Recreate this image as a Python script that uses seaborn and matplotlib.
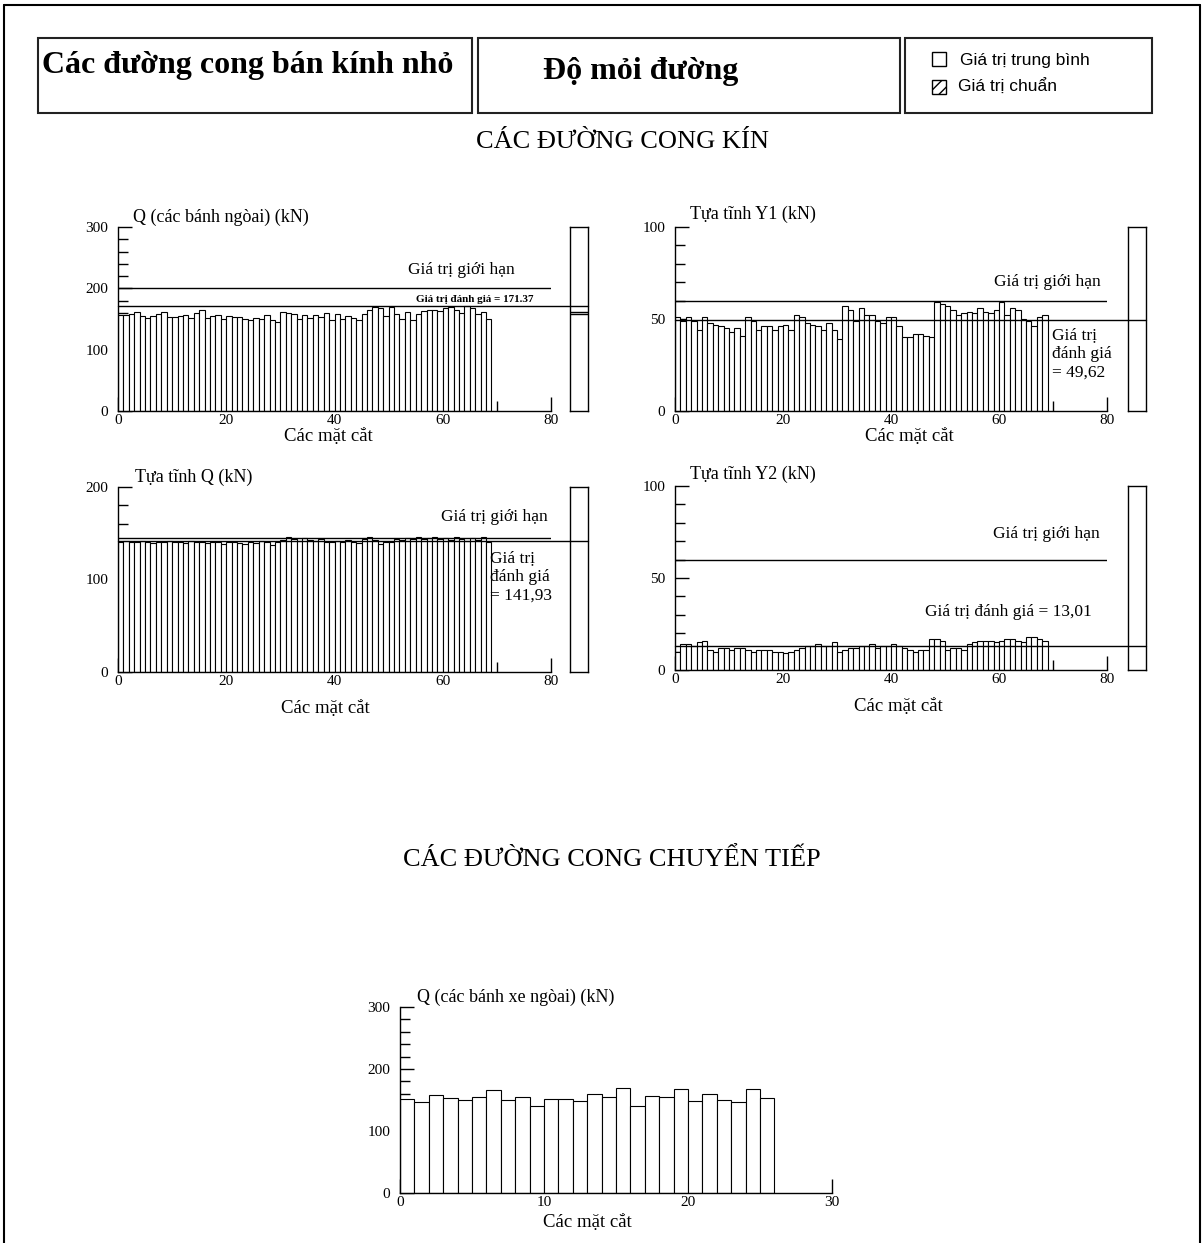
import numpy as np
import pandas as pd
import matplotlib
matplotlib.use("Agg")
import matplotlib.pyplot as plt
import seaborn as sns
from matplotlib.patches import Rectangle
from matplotlib.lines import Line2D
from matplotlib.ticker import MultipleLocator

# ---------------- data ----------------
q_outer = [157, 157, 158, 161, 155, 152, 155, 158, 162, 153, 153, 155, 157, 152, 160,
           165, 152, 155, 156, 150, 155, 154, 153, 150, 148, 152, 150, 156, 148, 145,
           162, 160, 158, 150, 157, 152, 156, 154, 160, 148, 158, 150, 155, 152, 148,
           158, 165, 170, 168, 155, 170, 158, 150, 162, 148, 158, 163, 165, 165, 163,
           168, 170, 165, 160, 172, 168, 158, 162, 150]
q_outer_limit = 200
q_outer_eval = 171.37
q_outer_side = [162, 158]

y1 = [51, 49, 51, 49, 44, 51, 48, 47, 46, 45, 43, 45, 41, 51, 49, 44, 46, 46, 44, 46,
      47, 44, 52, 51, 48, 47, 46, 44, 48, 44, 39, 57, 55, 49, 56, 52, 52, 49, 48, 51,
      51, 46, 40, 40, 42, 42, 41, 40, 59, 58, 57, 55, 52, 53, 54, 53, 56, 54, 53, 55,
      59, 52, 56, 55, 50, 49, 46, 51, 52]
y1_limit = 60
y1_eval = 49.62

q_static = [140, 142, 141, 140, 142, 141, 139, 141, 140, 142, 140, 141, 139, 142, 140,
            141, 139, 140, 141, 138, 140, 141, 139, 138, 141, 139, 142, 140, 137, 141,
            143, 146, 144, 142, 145, 143, 142, 144, 141, 140, 142, 141, 143, 140, 139,
            144, 146, 143, 138, 141, 140, 144, 143, 145, 144, 146, 144, 145, 146, 144,
            145, 143, 146, 144, 142, 145, 143, 146, 141]
q_static_limit = 145
q_static_eval = 141.93

y2 = [10, 14, 14, 13, 15, 16, 11, 10, 12, 12, 11, 12, 12, 11, 10, 11, 11, 11, 10, 10,
      9, 10, 11, 12, 13, 13, 14, 13, 13, 15, 10, 11, 12, 12, 13, 13, 14, 12, 13, 13,
      14, 13, 12, 11, 10, 11, 11, 17, 17, 16, 11, 12, 12, 11, 14, 15, 16, 16, 16, 15,
      16, 17, 17, 16, 15, 18, 18, 17, 16]
y2_limit = 60
y2_eval = 13.01

q_transition = [152, 147, 158, 154, 150, 155, 166, 150, 155, 140, 152, 152, 148, 160, 155,
                170, 140, 156, 155, 167, 148, 160, 150, 147, 167, 154]

# ---------------- style ----------------
sns.set_style("white")
SERIF = ["Liberation Serif", "DejaVu Serif"]
SANS = ["Liberation Sans", "DejaVu Sans"]
plt.rcParams["font.family"] = SERIF
plt.rcParams["text.color"] = "black"
plt.rcParams["axes.labelcolor"] = "black"
plt.rcParams["xtick.color"] = "black"
plt.rcParams["ytick.color"] = "black"
plt.rcParams["hatch.linewidth"] = 1.0

W, H = 1204, 1243
fig = plt.figure(figsize=(W / 100, H / 100), dpi=100)
fig.patch.set_facecolor("white")


def fx(x):
    return x / W


def fy(y):
    return 1 - y / H


def add_ax(l, t, r, b):
    return fig.add_axes([l / W, 1 - b / H, (r - l) / W, (b - t) / H])


def txt(x, y, s, **kw):
    fig.text(fx(x), fy(y), s, **kw)


# outer frame
fig.add_artist(Line2D([fx(4), fx(4)], [fy(1243), fy(5)], color="black", lw=1.5))
fig.add_artist(Line2D([fx(4), fx(1200)], [fy(5), fy(5)], color="black", lw=1.5))
fig.add_artist(Line2D([fx(1200), fx(1200)], [fy(5), fy(1243)], color="black", lw=1.5))

# header boxes
for (l, t, r, b) in [(38, 38, 472, 113), (478, 38, 900, 113), (905, 38, 1152, 113)]:
    fig.add_artist(Rectangle((fx(l), fy(b)), (r - l) / W, (b - t) / H,
                             fill=False, edgecolor="#222222", lw=1.5))
txt(42, 66, "Các đường cong bán kính nhỏ", fontsize=23, fontweight="bold", va="center", ha="left")
txt(641, 72, "Độ mỏi đường", fontsize=23, fontweight="bold", va="center", ha="center")
fig.add_artist(Rectangle((fx(932), fy(66)), 14 / W, 14 / H, fill=False, edgecolor="black", lw=1))
fig.add_artist(Rectangle((fx(932), fy(94)), 14 / W, 14 / H, fill=False, edgecolor="black",
                         lw=1, hatch="///"))
txt(960, 60, "Giá trị trung bình", fontsize=12.5, family=SANS, va="center", ha="left")
txt(958, 87, "Giá trị chuẩn", fontsize=12.5, family=SANS, va="center", ha="left")

txt(622, 142, "CÁC ĐƯỜNG CONG KÍN", fontsize=19, va="center", ha="center")
txt(612, 860, "CÁC ĐƯỜNG CONG CHUYỂN TIẾP", fontsize=19, va="center", ha="center")


def panel(box, vals, ymax, ymajor, yminor, xmax, xmajor, xminor, title, title_xy, xlabel_xy,
          limit=None, evalv=None, side=None, side_marks=None):
    ax = add_ax(*box)
    sections = np.arange(1, len(vals) + 1)
    df = pd.DataFrame({"section": sections - 0.5, "value": vals})
    sns.barplot(data=df, x="section", y="value", native_scale=True, width=1,
                color="white", edgecolor="black", linewidth=0.8, errorbar=None, ax=ax)
    ax.set_xlim(0, xmax)
    ax.set_ylim(0, ymax)
    ax.set_xlabel("")
    ax.set_ylabel("")
    for s in ["top", "right"]:
        ax.spines[s].set_visible(False)
    for s in ["left", "bottom"]:
        ax.spines[s].set_color("black")
        ax.spines[s].set_linewidth(1.0)
    ax.xaxis.set_major_locator(MultipleLocator(xmajor))
    ax.xaxis.set_minor_locator(MultipleLocator(xminor))
    ax.yaxis.set_major_locator(MultipleLocator(ymajor))
    ax.yaxis.set_minor_locator(MultipleLocator(yminor))
    ax.tick_params(axis="both", which="major", direction="in", length=10, width=1,
                   labelsize=11, colors="black")
    ax.tick_params(axis="both", which="minor", direction="in", length=7, width=1)
    ax.tick_params(axis="y", which="both", left=True, right=False, pad=7)
    ax.tick_params(axis="x", which="both", bottom=True, top=False, pad=2)
    ax.set_facecolor("none")
    box_w = box[2] - box[0]
    if limit is not None:
        ax.axhline(limit, xmin=0, xmax=1, color="black", lw=1)
    if side is not None:
        sax = add_ax(*side)
        sax.set_ylim(0, ymax)
        sax.set_xticks([])
        sax.set_yticks([])
        for s in sax.spines.values():
            s.set_visible(True)
            s.set_color("black")
            s.set_linewidth(1.0)
        sax.set_facecolor("none")
        if side_marks is not None:
            for m in side_marks:
                sax.axhline(m, color="black", lw=1)
        if evalv is not None:
            ext = (side[2] - box[0]) / box_w
            ax.axhline(evalv, xmin=0, xmax=ext, color="black", lw=1, clip_on=False)
    txt(title_xy[0], title_xy[1], title, fontsize=13, ha="left", va="center")
    txt(xlabel_xy[0], xlabel_xy[1], "Các mặt cắt", fontsize=13.5, ha="center", va="center")
    return ax


panel((118, 227, 551, 411), q_outer, 300, 100, 20, 80, 20, 10,
      "Q (các bánh ngòai) (kN)", (133, 217), (328, 436),
      limit=q_outer_limit, evalv=q_outer_eval, side=(570, 227, 588, 411),
      side_marks=q_outer_side)
txt(461, 270, "Giá trị giới hạn", fontsize=12.5, ha="center", va="center")
txt(475, 300, f"Giá trị đánh giá = {q_outer_eval:.2f}", fontsize=8, fontweight="bold",
    ha="center", va="center")

panel((675, 227, 1107, 411), y1, 100, 50, 10, 80, 20, 10,
      "Tựa tĩnh Y1 (kN)", (690, 214), (909, 437),
      limit=y1_limit, evalv=y1_eval, side=(1128, 227, 1146, 411))
txt(1047, 282, "Giá trị giới hạn", fontsize=12.5, ha="center", va="center")
txt(1052, 354, "Giá trị\nđánh giá\n= " + f"{y1_eval:.2f}".replace(".", ","), fontsize=12.5,
    ha="left", va="center", linespacing=1.2)

panel((118, 487, 551, 672), q_static, 200, 100, 20, 80, 20, 10,
      "Tựa tĩnh Q (kN)", (135, 477), (325, 709),
      limit=q_static_limit, evalv=q_static_eval, side=(570, 487, 588, 672))
txt(494, 517, "Giá trị giới hạn", fontsize=12.5, ha="center", va="center")
txt(490, 577, "Giá trị\nđánh giá\n= " + f"{q_static_eval:.2f}".replace(".", ","), fontsize=12.5,
    ha="left", va="center", linespacing=1.2)

panel((675, 486, 1107, 670), y2, 100, 50, 10, 80, 20, 10,
      "Tựa tĩnh Y2 (kN)", (690, 474), (898, 706),
      limit=y2_limit, evalv=y2_eval, side=(1128, 486, 1146, 670))
txt(1046, 534, "Giá trị giới hạn", fontsize=12.5, ha="center", va="center")
txt(1008, 612, "Giá trị đánh giá = " + f"{y2_eval:.2f}".replace(".", ","), fontsize=12.5,
    ha="center", va="center")

panel((400, 1007, 832, 1193), q_transition, 300, 100, 20, 30, 10, 5,
      "Q (các bánh xe ngòai) (kN)", (417, 997), (587, 1222))

fig.savefig("out.png", dpi=100, facecolor="white")
